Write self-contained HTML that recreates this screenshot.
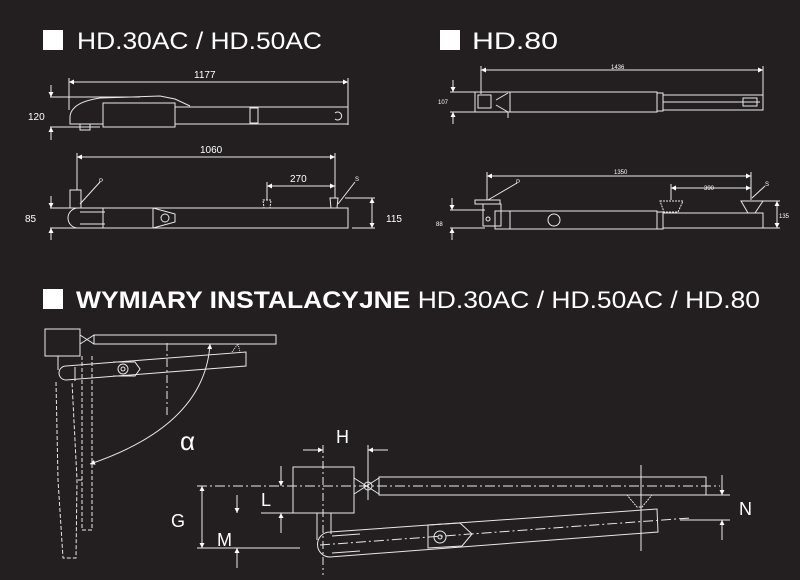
<!DOCTYPE html>
<html><head><meta charset="utf-8"><style>
html,body{margin:0;padding:0;background:#231f20;}
svg{display:block}
text{font-family:"Liberation Sans",sans-serif;fill:#fff}
</style></head><body>
<svg width="800" height="580" viewBox="0 0 800 580" xmlns="http://www.w3.org/2000/svg">
<defs>
<marker id="a" viewBox="0 0 10 10" refX="10" refY="5" markerWidth="7" markerHeight="5" orient="auto-start-reverse"><path d="M0,0 L10,5 L0,10 z" fill="#fff"/></marker>
</defs>
<rect width="800" height="580" fill="#231f20"/>
<!-- headers -->
<rect x="43" y="30" width="20" height="20" fill="#fff"/>
<text x="77" y="49" font-size="24" textLength="245" lengthAdjust="spacingAndGlyphs">HD.30AC / HD.50AC</text>
<rect x="440" y="30" width="20" height="20" fill="#fff"/>
<text x="472" y="49" font-size="24" textLength="86" lengthAdjust="spacingAndGlyphs">HD.80</text>
<rect x="43" y="289" width="20" height="20" fill="#fff"/>
<text x="76" y="308" font-size="24" textLength="684" lengthAdjust="spacingAndGlyphs"><tspan font-weight="bold">WYMIARY INSTALACYJNE</tspan> HD.30AC / HD.50AC / HD.80</text>

<g stroke="#e8e8e8" fill="none" stroke-width="1">
<!-- TOP LEFT -->
<line x1="69" y1="82" x2="348" y2="82" marker-start="url(#a)" marker-end="url(#a)"/>
<line x1="69" y1="78" x2="69" y2="110"/><line x1="348" y1="78" x2="348" y2="125"/>
<path d="M70,116 Q72,102 100,98 L160,96 L175,99 L190,106"/>
<rect x="103" y="103" width="72" height="24"/>
<rect x="175" y="107" width="173" height="17"/>
<rect x="250" y="108" width="8" height="15"/>
<path d="M70,116 L70,124 L103,124 M80,124 L80,130 L90,130 L90,124"/>
<path d="M335,113 a4,4 0 1,1 0,6"/>
<line x1="50" y1="97" x2="140" y2="97"/><line x1="50" y1="127" x2="100" y2="127"/>
<line x1="51" y1="85" x2="51" y2="97" marker-end="url(#a)"/><line x1="51" y1="140" x2="51" y2="127" marker-end="url(#a)"/>
<line x1="77" y1="157" x2="335" y2="157" marker-start="url(#a)" marker-end="url(#a)"/>
<line x1="77" y1="153" x2="77" y2="190"/><line x1="335" y1="153" x2="335" y2="198"/>
<line x1="267" y1="186" x2="335" y2="186" marker-start="url(#a)" marker-end="url(#a)"/>
<line x1="267" y1="182" x2="267" y2="200"/>
<rect x="70" y="190" width="11" height="18"/>
<path d="M80,204 L100,182"/>
<path d="M330,198 L338,198 L337,208 L331,208 z"/>
<path d="M263,200 L271,200 L270,208 L264,208 z" stroke-dasharray="2,1"/>
<path d="M338,204 L355,182"/>
<path d="M78,208 L348,208 L348,228 L78,228 A10,10 0 0,1 78,208 z"/>
<path d="M80,212 L105,212 M80,224 L105,224"/>
<rect x="103" y="208" width="50" height="20"/>
<path d="M153,208 L175,214 L175,222 L153,228"/>
<circle cx="165" cy="218" r="4"/>
<line x1="50" y1="208" x2="80" y2="208"/><line x1="50" y1="228" x2="80" y2="228"/>
<line x1="51" y1="196" x2="51" y2="208" marker-end="url(#a)"/><line x1="51" y1="240" x2="51" y2="228" marker-end="url(#a)"/>
<line x1="345" y1="198" x2="375" y2="198"/><line x1="352" y1="228" x2="375" y2="228"/>
<line x1="372" y1="198" x2="372" y2="228" marker-start="url(#a)" marker-end="url(#a)"/>

<!-- TOP RIGHT -->
<line x1="481" y1="70" x2="763" y2="70" marker-start="url(#a)" marker-end="url(#a)"/>
<line x1="481" y1="66" x2="481" y2="94"/><line x1="763" y1="66" x2="763" y2="108"/>
<rect x="475" y="92" width="182" height="20"/>
<rect x="478" y="95" width="13" height="13"/>
<line x1="510" y1="92" x2="510" y2="112"/>
<path d="M496,100 L508,93 M496,105 L508,112 L508,118"/>
<rect x="657" y="93" width="6" height="18"/>
<rect x="663" y="95" width="100" height="15"/>
<line x1="663" y1="102" x2="760" y2="102"/>
<rect x="743" y="98" width="14" height="8"/>
<line x1="450" y1="92" x2="478" y2="92"/><line x1="450" y1="112" x2="478" y2="112"/>
<line x1="453" y1="80" x2="453" y2="92" marker-end="url(#a)"/><line x1="453" y1="124" x2="453" y2="112" marker-end="url(#a)"/>
<line x1="487" y1="176" x2="751" y2="176" marker-start="url(#a)" marker-end="url(#a)"/>
<line x1="487" y1="172" x2="487" y2="200"/><line x1="751" y1="172" x2="751" y2="200"/>
<line x1="671" y1="188" x2="751" y2="188" marker-start="url(#a)" marker-end="url(#a)"/>
<line x1="671" y1="184" x2="671" y2="200"/>
<path d="M488,200 L517,183"/><path d="M752,198 L765,186"/>
<rect x="475" y="200" width="25" height="4"/>
<rect x="483" y="204" width="18" height="22"/>
<circle cx="488" cy="219" r="2"/>
<rect x="495" y="211" width="162" height="18"/>
<line x1="510" y1="211" x2="510" y2="229"/>
<circle cx="554" cy="220" r="6"/>
<rect x="657" y="212" width="6" height="17"/>
<rect x="663" y="213" width="100" height="15"/>
<path d="M660,201 L683,201 L678,212 L664,212 z" stroke-dasharray="2,1"/>
<path d="M741,201 L763,201 L755,213 L748,213 z"/>
<line x1="450" y1="210" x2="485" y2="210"/><line x1="450" y1="228" x2="485" y2="228"/>
<line x1="452" y1="198" x2="452" y2="210" marker-end="url(#a)"/><line x1="452" y1="240" x2="452" y2="228" marker-end="url(#a)"/>
<line x1="763" y1="201" x2="780" y2="201"/><line x1="763" y1="228" x2="780" y2="228"/>
<line x1="777" y1="201" x2="777" y2="228" marker-start="url(#a)" marker-end="url(#a)"/>

<!-- BOTTOM LEFT -->
<rect x="45" y="329" width="35" height="27"/>
<rect x="94" y="335" width="182" height="9"/>
<path d="M80,335 L94,344 M80,344 L94,335"/>
<path d="M66,366 L246,352 L246,366 L66,380 A7,7 0 0,1 66,366 z"/>
<line x1="75" y1="367" x2="75" y2="381"/>
<circle cx="123" cy="369" r="5"/><circle cx="123" cy="369" r="2"/>
<path d="M113,362 L135,362 L140,369 L135,376 L113,376"/>
<path d="M232,352 L238,344 L240,352" stroke-dasharray="1,1"/>
<line x1="58" y1="356" x2="58" y2="370"/>
<g stroke-dasharray="4,2">
<path d="M82,356 L82,530 L92,530 L92,356"/>
<path d="M56,382 L58,480 L63,558 L76,558 L77,480 L72,382"/>
<line x1="78" y1="480" x2="82" y2="480"/>
</g>
<line x1="167" y1="343" x2="167" y2="415" stroke-dasharray="8,3,2,3"/>
<path d="M210,344 Q205,425 90,464" marker-start="url(#a)" marker-end="url(#a)"/>

<!-- BOTTOM RIGHT -->
<rect x="293" y="467" width="61" height="46"/>
<rect x="379" y="477" width="327" height="18"/>
<path d="M354,478 L379,494 M354,494 L379,478"/>
<circle cx="368" cy="486" r="4"/>
<line x1="197" y1="486" x2="720" y2="486" stroke-dasharray="10,3,2,3"/>
<line x1="323" y1="445" x2="323" y2="575" stroke-dasharray="8,3,2,3"/>
<line x1="368" y1="445" x2="368" y2="500"/>
<line x1="303" y1="450" x2="323" y2="450" marker-end="url(#a)"/>
<line x1="388" y1="450" x2="368" y2="450" marker-end="url(#a)"/>
<line x1="261" y1="513" x2="293" y2="513"/>
<line x1="281" y1="466" x2="281" y2="486" marker-end="url(#a)"/>
<line x1="281" y1="533" x2="281" y2="513" marker-end="url(#a)"/>
<line x1="197" y1="548" x2="300" y2="548"/>
<line x1="202" y1="486" x2="202" y2="548" marker-start="url(#a)" marker-end="url(#a)"/>
<line x1="237" y1="495" x2="237" y2="513" marker-end="url(#a)"/>
<line x1="237" y1="568" x2="237" y2="548" marker-end="url(#a)"/>
<line x1="317" y1="513" x2="317" y2="540"/><line x1="331" y1="513" x2="331" y2="534"/>
<path d="M330,532 L657,509 L658,532 L330,557 A12,12 0 0,1 330,532 z"/>
<path d="M332,536 L360,534 M332,553 L360,551"/>
<path d="M428,525 L460,523 L472,534 L462,546 L428,548 z"/>
<circle cx="440" cy="537" r="6"/><circle cx="440" cy="537" r="2"/>
<line x1="320" y1="545" x2="690" y2="518" stroke-dasharray="10,3,2,3"/>
<path d="M627,495 L652,495 L642,507 L637,507 z" stroke-dasharray="2,1"/>
<line x1="641" y1="465" x2="641" y2="551"/>
<line x1="690" y1="495" x2="730" y2="495"/>
<line x1="680" y1="520" x2="730" y2="520"/>
<line x1="722" y1="475" x2="722" y2="495" marker-end="url(#a)"/>
<line x1="722" y1="540" x2="722" y2="520" marker-end="url(#a)"/>
</g>

<g font-size="10">
<text x="194" y="78">1177</text>
<text x="28" y="120">120</text>
<text x="200" y="153">1060</text>
<text x="290" y="182">270</text>
<text x="25" y="222">85</text>
<text x="386" y="222">115</text>
<text x="99" y="183" font-size="6">P</text>
<text x="355" y="181" font-size="6">S</text>
</g>
<g font-size="6">
<text x="611" y="69">1436</text>
<text x="438" y="104">107</text>
<text x="614" y="174">1350</text>
<text x="704" y="190">390</text>
<text x="436" y="226">88</text>
<text x="779" y="218">135</text>
<text x="516" y="184">P</text>
<text x="765" y="186">S</text>
</g>
<g font-size="18">
<text x="336" y="443">H</text>
<text x="261" y="506">L</text>
<text x="171" y="527">G</text>
<text x="217" y="546">M</text>
<text x="739" y="515">N</text>
<text x="180" y="450" font-size="26">α</text>
</g>
</svg>
</body></html>
